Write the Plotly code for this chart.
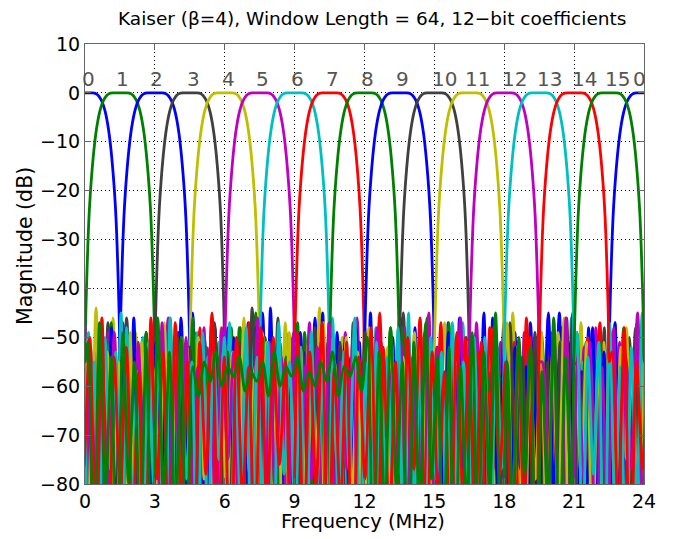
import numpy as np
import plotly.graph_objects as go

# ---------------- data ----------------
centers = [0.0, 1.5, 3.0, 4.5, 6.0, 7.5, 9.0, 10.5, 12.0, 13.5, 15.0, 16.5, 18.0, 19.5, 21.0, 22.5]
colors = ["#0000FF", "#008000", "#0000FF", "#404040", "#BFBF00", "#BF00BF", "#00BFBF", "#FF0000",
          "#008000", "#0000FF", "#404040", "#BFBF00", "#BF00BF", "#00BFBF", "#FF0000", "#008000"]

label_text = ["0", "1", "2", "3", "4", "5", "6", "7", "8", "9", "10", "11", "12", "13", "14", "15", "0"]
label_x = [0.17, 1.63, 3.09, 4.64, 6.14, 7.64, 9.14, 10.64, 12.15, 13.65, 15.45, 16.87, 18.45, 19.96, 21.46, 22.88, 23.82]

# main lobe (offset from channel centre, MHz) and magnitude (dB)
mainlobe_off = [0, 0.15, 0.3, 0.4, 0.48, 0.56, 0.64, 0.72, 0.8, 0.88, 0.96, 1.04, 1.12, 1.2, 1.27, 1.33, 1.38, 1.43, 1.47, 1.51]
mainlobe_db = [0, 0, 0, -0.05, -0.2, -0.5, -1.0, -1.7, -2.7, -4.1, -6.0, -8.5, -11.8, -16, -20.5, -25.5, -31.5, -39, -46, -55]

# stop-band magnitudes (dB), alternating lobe peak / null, spread from +1.625 to +22.375 MHz offset
sb00 = [-47,-78,-52,-88,-49,-104,-55,-74,-51,-95,-46,-84,-57,-110,-50,-80,-53,-92,-48,-100,-56,-72,-50,-106,-45,-83,-54,-90,-49,-98,-58,-77,-51,-112,-47,-86,-55,-75,-52,-102,-48,-94,-53,-81,-50,-105,-57,-76,-46,-91,-54,-108,-49,-85,-52,-97,-56,-73,-48,-101,-51,-87,-45,-107,-55,-79,-50,-93,-53,-113,-47,-82,-56,-99,-49,-76,-52,-90,-54,-104,-48,-86,-51,-96]
sb01 = [-50,-82,-46,-97,-54,-71,-49,-111,-52,-84,-57,-76,-48,-101,-53,-88,-45,-106,-56,-78,-51,-92,-54,-115,-49,-74,-52,-98,-47,-85,-55,-80,-50,-109,-53,-72,-58,-94,-48,-103,-51,-83,-56,-90,-46,-112,-53,-79,-50,-99,-54,-71,-49,-91,-57,-107,-52,-84,-47,-77,-55,-102,-50,-87,-53,-96,-48,-110,-56,-78,-51,-89,-54,-104,-49,-82,-52,-73,-57,-100]
sb02 = [-45,-90,-53,-75,-48,-108,-51,-83,-56,-97,-47,-78,-52,-114,-44,-86,-55,-80,-50,-103,-53,-92,-46,-73,-57,-110,-49,-88,-54,-81,-51,-99,-45,-94,-56,-76,-50,-116,-53,-84,-48,-105,-55,-78,-52,-96,-47,-82,-54,-109,-51,-74,-57,-101,-46,-89,-53,-80,-49,-112,-55,-86,-50,-93,-52,-72,-45,-104,-56,-81,-51,-98,-48,-87,-54,-113,-50,-77,-53,-96,-47,-84,-55,-106,-49,-91,-52,-78]
sb03 = [-52,-84,-48,-101,-55,-79,-50,-94,-46,-113,-53,-81,-57,-91,-49,-106,-51,-74,-54,-110,-47,-86,-55,-97,-50,-80,-52,-117,-45,-89,-56,-77,-51,-103,-48,-93,-54,-82,-50,-108,-53,-73,-57,-99,-47,-87,-52,-111,-55,-78,-49,-95,-53,-84,-46,-104,-56,-80,-51,-91,-48,-114,-54,-76,-50,-100,-52,-85,-57,-107,-47,-81,-55,-93,-49,-110,-53,-77]
sb04 = [-49,-103,-54,-80,-47,-92,-56,-112,-51,-83,-44,-98,-53,-75,-50,-108,-55,-87,-48,-79,-57,-116,-52,-84,-46,-96,-54,-77,-50,-105,-53,-89,-47,-82,-56,-109,-51,-73,-55,-100,-48,-85,-52,-113,-45,-80,-54,-93,-50,-104,-57,-78,-49,-91,-53,-111,-47,-82,-55,-97,-51,-76,-54,-107,-48,-87,-56,-81,-50,-115,-52,-92,-46,-78,-55,-102,-49,-84,-53,-95,-51,-108,-56,-79,-50,-94]
sb05 = [-53,-77,-47,-110,-52,-86,-55,-81,-49,-103,-46,-93,-54,-74,-51,-113,-56,-84,-48,-97,-53,-79,-45,-107,-55,-88,-50,-76,-52,-117,-47,-83,-57,-99,-51,-80,-54,-109,-49,-90,-53,-77,-46,-104,-55,-85,-50,-95,-52,-114,-48,-81,-56,-73,-51,-101,-54,-91,-47,-110,-53,-79,-49,-88,-55,-106,-50,-82,-57,-98,-52,-75,-46,-112,-54,-89,-51,-80,-48,-103,-55,-84]
sb06 = [-46,-85,-55,-104,-50,-78,-53,-95,-48,-114,-56,-82,-51,-90,-45,-108,-54,-75,-52,-99,-49,-84,-57,-111,-47,-80,-53,-92,-50,-106,-55,-77,-48,-116,-52,-87,-56,-81,-49,-102,-54,-73,-51,-109,-46,-91,-55,-84,-50,-97,-53,-79,-47,-113,-56,-88,-52,-75,-49,-107,-54,-83,-51,-94,-45,-103,-55,-80,-50,-111,-53,-86,-48,-78,-56,-100,-52,-90,-49,-109,-54,-82,-51,-96,-47,-88,-53,-105,-50,-79]
sb07 = [-51,-93,-45,-81,-54,-109,-49,-75,-56,-100,-52,-85,-47,-115,-55,-80,-50,-92,-53,-104,-48,-77,-57,-88,-51,-112,-46,-83,-54,-97,-49,-79,-53,-107,-56,-86,-50,-74,-47,-102,-55,-90,-52,-114,-48,-82,-54,-96,-51,-78,-57,-106,-49,-84,-53,-101,-46,-89,-55,-79,-50,-113,-52,-85,-48,-94,-56,-76,-51,-105,-54,-83,-47,-98,-53,-110,-50,-81,-55,-88]
sb08 = [-48,-97,-53,-79,-50,-106,-55,-84,-47,-91,-52,-62,-55,-60,-54,-61,-56,-59,-55,-62,-57,-61,-54,-66,-51,-110,-46,-86,-53,-95,-49,-80,-56,-104,-51,-88,-54,-78,-48,-113,-52,-83,-55,-99,-50,-80,-47,-108,-53,-87,-56,-77,-49,-96,-52,-115,-54,-82,-50,-92,-46,-105,-55,-78,-51,-90,-53,-111,-48,-84,-56,-75,-50,-101,-52,-93,-54,-81,-47,-109,-53,-86,-51,-97]
sb09 = [-54,-81,-49,-104,-46,-88,-53,-78,-51,-113,-55,-84,-48,-96,-52,-77,-56,-107,-50,-87,-45,-82,-54,-101,-51,-116,-57,-80,-49,-92,-53,-85,-47,-109,-55,-76,-50,-99,-52,-90,-56,-112,-48,-81,-53,-95,-46,-104,-54,-83,-51,-77,-55,-114,-49,-91,-52,-85,-57,-106,-47,-79,-53,-97,-50,-87,-55,-110,-48,-78,-54,-100,-51,-82,-56,-117,-49,-88,-52,-94,-45,-105,-53,-84,-51,-99,-48,-80]
sb10 = [-50,-108,-56,-83,-52,-92,-47,-77,-54,-103,-49,-87,-55,-114,-51,-81,-45,-97,-53,-84,-57,-106,-50,-78,-52,-94,-48,-111,-55,-82,-51,-89,-54,-102,-46,-79,-53,-117,-50,-85,-56,-96,-49,-76,-52,-107,-55,-88,-47,-82,-54,-99,-51,-109,-44,-84,-53,-92,-57,-78,-50,-104,-52,-87,-48,-113,-55,-81,-51,-97,-53,-77,-49,-108,-56,-89,-52,-83]
sb11 = [-47,-89,-52,-109,-55,-79,-49,-98,-53,-84,-46,-114,-56,-78,-51,-93,-54,-105,-48,-83,-52,-75,-57,-111,-50,-88,-44,-103,-53,-80,-55,-96,-49,-110,-51,-77,-56,-91,-47,-107,-54,-84,-52,-101,-50,-79,-55,-116,-48,-87,-53,-94,-46,-78,-56,-104,-51,-86,-54,-109,-49,-82,-52,-97,-57,-75,-47,-112,-55,-89,-50,-83,-53,-102,-48,-79,-56,-108,-51,-92,-54,-81,-49,-99,-53,-87]
sb12 = [-55,-83,-50,-112,-46,-90,-53,-79,-51,-102,-56,-87,-48,-107,-54,-77,-45,-95,-52,-110,-57,-82,-49,-88,-53,-104,-51,-78,-55,-114,-47,-84,-54,-98,-50,-80,-56,-106,-52,-89,-48,-75,-53,-111,-55,-85,-46,-101,-51,-82,-54,-93,-49,-109,-56,-79,-52,-103,-47,-86,-55,-77,-50,-112,-53,-91,-48,-83,-56,-105,-51,-88,-54,-78,-49,-99,-52,-110,-57,-84,-46,-94]
sb13 = [-49,-94,-54,-78,-51,-111,-47,-85,-56,-100,-52,-82,-45,-107,-55,-89,-50,-77,-53,-115,-48,-84,-57,-96,-51,-80,-54,-109,-46,-88,-52,-79,-55,-104,-49,-92,-53,-75,-50,-112,-56,-86,-48,-99,-54,-83,-51,-108,-47,-78,-55,-91,-52,-110,-49,-82,-57,-101,-50,-85,-53,-77,-46,-105,-55,-90,-51,-114,-54,-80,-48,-95,-52,-84,-56,-106,-50,-79,-53,-98,-47,-88,-55,-109,-50,-83,-54,-101,-48,-77]
sb14 = [-53,-86,-48,-105,-55,-77,-50,-95,-46,-110,-54,-82,-52,-90,-57,-112,-49,-79,-53,-101,-47,-84,-55,-107,-51,-78,-45,-93,-54,-113,-50,-83,-56,-98,-48,-87,-52,-76,-55,-108,-49,-94,-53,-81,-47,-103,-56,-85,-51,-115,-54,-79,-48,-96,-52,-89,-55,-106,-50,-77,-46,-111,-53,-84,-57,-99,-49,-82,-54,-91,-51,-109,-48,-78,-55,-101,-52,-86,-50,-107]
sb15 = [-51,-100,-47,-84,-54,-109,-49,-80,-55,-94,-52,-106,-46,-83,-53,-89,-50,-111,-56,-62,-55,-59,-53,-60,-56,-58,-54,-61,-57,-59,-55,-62,-53,-60,-56,-58,-54,-61,-57,-60,-55,-59,-53,-62,-56,-58,-54,-61,-50,-103,-53,-86,-48,-81,-55,-108,-51,-90,-47,-79,-54,-98,-52,-113,-56,-84,-49,-94,-53,-82,-45,-105,-55,-87,-50,-78,-52,-110,-57,-85,-48,-96,-54,-83]
stopbands = [sb00, sb01, sb02, sb03, sb04, sb05, sb06, sb07, sb08, sb09, sb10, sb11, sb12, sb13, sb14, sb15]

PERIOD = 24.0
SB_START, SB_END = 1.625, 22.375


def channel_curve(c, sb):
    mo = np.array(mainlobe_off)
    md = np.array(mainlobe_db, dtype=float)
    off_main = np.concatenate([-mo[::-1], mo[1:]])
    db_main = np.concatenate([md[::-1], md[1:]])
    off_sb = np.linspace(SB_START, SB_END, len(sb))
    off = np.concatenate([off_main, off_sb])
    db = np.concatenate([db_main, np.array(sb, dtype=float)])
    xs = np.concatenate([c + off + t for t in (-PERIOD, 0.0, PERIOD)])
    ys = np.concatenate([db, db, db])
    m = (xs > -3) & (xs < PERIOD + 3)
    return xs[m], ys[m]


fig = go.Figure()
for c, sb, col in zip(centers, stopbands, colors):
    x, y = channel_curve(c, sb)
    fig.add_trace(go.Scatter(x=x, y=y, mode="lines",
                             line=dict(color=col, width=2.8, shape="spline", smoothing=0.9),
                             showlegend=False, hoverinfo="skip"))

FONT = "DejaVu Sans, Verdana, sans-serif"
# The page body adds an 8px margin, so the figure is 8px smaller than the window.
OFF = 8
W, H = 681 - OFF, 539 - OFF
PX0, PX1, PY0, PY1 = 85, 644, 44, 484        # plot-area edges in window pixels
L, T = PX0 - OFF, PY0 - OFF
R, B = W - (PX1 - OFF), H - (PY1 - OFF)
pw, ph = PX1 - PX0, PY1 - PY0


def px(xw):
    return (xw - PX0) / pw


def py(yw):
    return (PY1 - yw) / ph


annotations = []
for lx, lt in zip(label_x, label_text):
    annotations.append(dict(x=lx, y=2.8, xref="x", yref="y", text=lt, showarrow=False,
                            xanchor="center", yanchor="middle",
                            font=dict(family=FONT, size=20, color="#555555")))

annotations.append(dict(x=px(372), y=py(18), xref="paper", yref="paper",
                        text="Kaiser (β=4), Window Length = 64, 12\u2212bit coefficients",
                        showarrow=False, xanchor="center", yanchor="middle",
                        font=dict(family=FONT, size=18.5, color="#000")))
annotations.append(dict(x=px(363), y=py(521), xref="paper", yref="paper",
                        text="Frequency (MHz)", showarrow=False, xanchor="center", yanchor="middle",
                        font=dict(family=FONT, size=19.5, color="#000")))
annotations.append(dict(x=px(25), y=py(246), xref="paper", yref="paper",
                        text="Magnitude (dB)", showarrow=False, xanchor="center", yanchor="middle",
                        textangle=-90, font=dict(family=FONT, size=20.5, color="#000")))

axis_common = dict(showgrid=True, gridcolor="#000000", gridwidth=1, griddash="1px,3px",
                   zeroline=False, showline=True, linecolor="#666666", linewidth=1,
                   mirror="ticks", ticks="inside", ticklen=6, tickcolor="#666666",
                   tickfont=dict(family=FONT, size=19, color="#000"))

fig.update_layout(
    width=W, height=H,
    margin=dict(l=L, r=R, t=T, b=B, autoexpand=False),
    paper_bgcolor="white", plot_bgcolor="white",
    xaxis=dict(range=[0, 24], tickmode="array", tickvals=[0, 3, 6, 9, 12, 15, 18, 21, 24], **axis_common),
    yaxis=dict(range=[-80, 10], tickmode="array", tickvals=[-80, -70, -60, -50, -40, -30, -20, -10, 0, 10], **axis_common),
    annotations=annotations,
    showlegend=False,
)

fig.write_html("out.html")
